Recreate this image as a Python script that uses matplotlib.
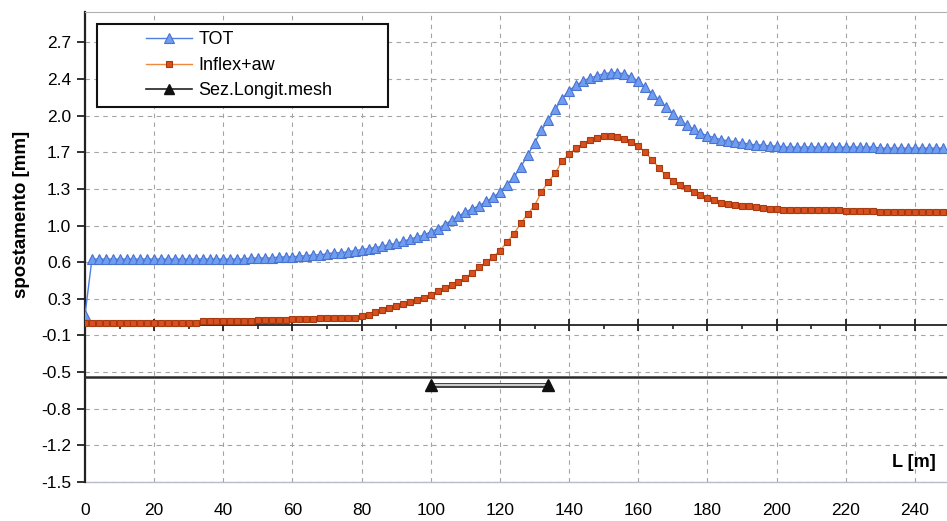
import numpy as np
import matplotlib
matplotlib.use("Agg")
import matplotlib.pyplot as plt
import matplotlib.patheffects as pe
from matplotlib.lines import Line2D
from matplotlib.legend_handler import HandlerLine2D
from matplotlib.ticker import FixedLocator, MultipleLocator

plt.rcParams['font.family'] = ['Liberation Sans', 'DejaVu Sans']

# stations along the section, every 2 m
L = np.arange(0, 250, 2)

# total settlement
tot = [0.10, 0.63, 0.63, 0.63, 0.63, 0.63, 0.63, 0.63, 0.63, 0.63,
       0.63, 0.63, 0.63, 0.63, 0.63, 0.63, 0.63, 0.63, 0.63, 0.63,
       0.63, 0.63, 0.63, 0.63, 0.64, 0.64, 0.64, 0.64, 0.65, 0.65,
       0.65, 0.66, 0.66, 0.67, 0.67, 0.68, 0.69, 0.69, 0.70, 0.71,
       0.72, 0.73, 0.74, 0.75, 0.77, 0.78, 0.80, 0.82, 0.84, 0.86,
       0.89, 0.92, 0.96, 1.00, 1.04, 1.08, 1.11, 1.14, 1.18, 1.22,
       1.27, 1.34, 1.41, 1.51, 1.62, 1.74, 1.86, 1.96, 2.06, 2.16,
       2.24, 2.29, 2.33, 2.36, 2.38, 2.40, 2.41, 2.41, 2.40, 2.37,
       2.33, 2.27, 2.21, 2.15, 2.08, 2.02, 1.96, 1.91, 1.87, 1.83,
       1.81, 1.79, 1.77, 1.76, 1.75, 1.74, 1.73, 1.72, 1.72, 1.71,
       1.71, 1.70, 1.70, 1.70, 1.70, 1.70, 1.70, 1.70, 1.70, 1.70,
       1.70, 1.70, 1.70, 1.70, 1.70, 1.69, 1.69, 1.69, 1.69, 1.69,
       1.69, 1.69, 1.69, 1.69, 1.69]

# inflexion + aw contribution
inflex = [0.02, 0.02, 0.02, 0.02, 0.02, 0.02, 0.02, 0.02, 0.02, 0.02,
          0.02, 0.02, 0.02, 0.02, 0.02, 0.02, 0.02, 0.04, 0.04, 0.04,
          0.04, 0.04, 0.04, 0.04, 0.04, 0.05, 0.05, 0.05, 0.05, 0.05,
          0.06, 0.06, 0.06, 0.06, 0.07, 0.07, 0.07, 0.07, 0.07, 0.07,
          0.09, 0.10, 0.12, 0.14, 0.16, 0.18, 0.20, 0.22, 0.24, 0.26,
          0.29, 0.32, 0.35, 0.38, 0.41, 0.45, 0.50, 0.55, 0.60, 0.65,
          0.71, 0.79, 0.87, 0.97, 1.06, 1.14, 1.27, 1.37, 1.45, 1.57,
          1.63, 1.69, 1.73, 1.77, 1.79, 1.81, 1.81, 1.80, 1.78, 1.75,
          1.71, 1.65, 1.58, 1.50, 1.43, 1.38, 1.34, 1.31, 1.27, 1.24,
          1.21, 1.19, 1.17, 1.16, 1.15, 1.14, 1.14, 1.13, 1.12, 1.11,
          1.11, 1.10, 1.10, 1.10, 1.10, 1.10, 1.10, 1.10, 1.10, 1.10,
          1.09, 1.09, 1.09, 1.09, 1.09, 1.08, 1.08, 1.08, 1.08, 1.08,
          1.08, 1.08, 1.08, 1.08, 1.08]

# longitudinal section mesh
mesh_level = -0.50
mesh_x = [100, 134]
mesh_y = [-0.57, -0.57]

ytick_vals = np.linspace(-1.5, 2.7, 13)
ytick_labels = ['-1.5', '-1.2', '-0.8', '-0.5', '-0.1', '0.3', '0.6',
                '1.0', '1.3', '1.7', '2.0', '2.4', '2.7']

fig = plt.figure(figsize=(9.47, 5.21), dpi=100)
ax = fig.add_axes([0.0898, 0.0749, 0.9102, 0.902])
ax.set_xlim(0, 249.3)
ax.set_ylim(-1.5, 2.99)

ax.grid(True, which='major', color='#a4a4a4', linestyle=(0, (4, 4)), linewidth=0.8)
ax.set_axisbelow(True)

l_tot, = ax.plot(L, tot, color='#4f7fe0', lw=1.0, marker='^', ms=6.5,
                 mfc='#6f9ef0', mec='#4a72d0', mew=0.8, label='TOT', zorder=4)
l_inf, = ax.plot(L, inflex, color='#f08a40', lw=1.0, marker='s', ms=4.8,
                 mfc='#d9501e', mec='#a83a10', mew=0.8, label='Inflex+aw', zorder=5)

ax.axhline(mesh_level, color='#2a2a2a', lw=1.8, zorder=3)
ax.plot(mesh_x, mesh_y, color='#dcdcdc', lw=1.3, zorder=3,
        path_effects=[pe.Stroke(linewidth=3.6, foreground='#444444'), pe.Normal()])
ax.plot(mesh_x, mesh_y, ls='none', marker='^', ms=8, color='#111111', zorder=6)

# x axis crossing at zero, labels on a secondary axis at the bottom
ax.spines['bottom'].set_position(('data', 0))
ax.spines['bottom'].set_color('#222222')
ax.spines['bottom'].set_linewidth(1.3)
ax.spines['right'].set_visible(False)
ax.spines['top'].set_color('#b0b0b0')
ax.spines['top'].set_linewidth(0.8)
ax.spines['left'].set_color('#222222')
ax.spines['left'].set_linewidth(1.6)

ax.xaxis.set_major_locator(MultipleLocator(20))
ax.xaxis.set_minor_locator(MultipleLocator(10))
ax.tick_params(axis='x', which='major', direction='inout', length=9, width=1.3,
               color='#222222', labelbottom=False)
ax.tick_params(axis='x', which='minor', direction='out', length=3, width=1.2,
               color='#222222')

ax.yaxis.set_major_locator(FixedLocator(ytick_vals))
ax.set_yticklabels(ytick_labels)
ax.tick_params(axis='y', which='major', direction='out', length=6, width=1.3,
               color='#222222', labelsize=12.5, pad=4)

sec = ax.secondary_xaxis(0)
sec.xaxis.set_major_locator(MultipleLocator(20))
sec.tick_params(length=0, labelsize=12.5, pad=15)
sec.spines['bottom'].set_color('#b8bccc')
sec.spines['bottom'].set_linewidth(1.0)

ax.set_ylabel('spostamento [mm]', fontsize=13.5, fontweight='bold')
ax.yaxis.set_label_coords(-0.064, 0.57)
ax.text(246, -1.31, 'L [m]', fontsize=13, fontweight='bold', ha='right', va='center')

mesh_handle = Line2D([], [], color='#222222', lw=1.2, marker='^', ms=7,
                     mfc='#111111', mec='#111111')
# handles are drawn only on the right part of the handle box
shifted = HandlerLine2D(xpad=2.3)
leg = ax.legend([l_tot, l_inf, mesh_handle], ['TOT', 'Inflex+aw', 'Sez.Longit.mesh'],
                loc='upper left', bbox_to_anchor=(0.0139, 0.974, 0.3376, 0.0),
                mode='expand', borderaxespad=0, fontsize=13,
                handlelength=4.86, handletextpad=0.35, borderpad=0.4,
                labelspacing=0.47, fancybox=False, framealpha=1,
                handler_map={l_tot: shifted, l_inf: shifted, mesh_handle: shifted})
leg.get_frame().set_edgecolor('#111111')
leg.get_frame().set_linewidth(1.5)

fig.savefig('out.png', dpi=100)
